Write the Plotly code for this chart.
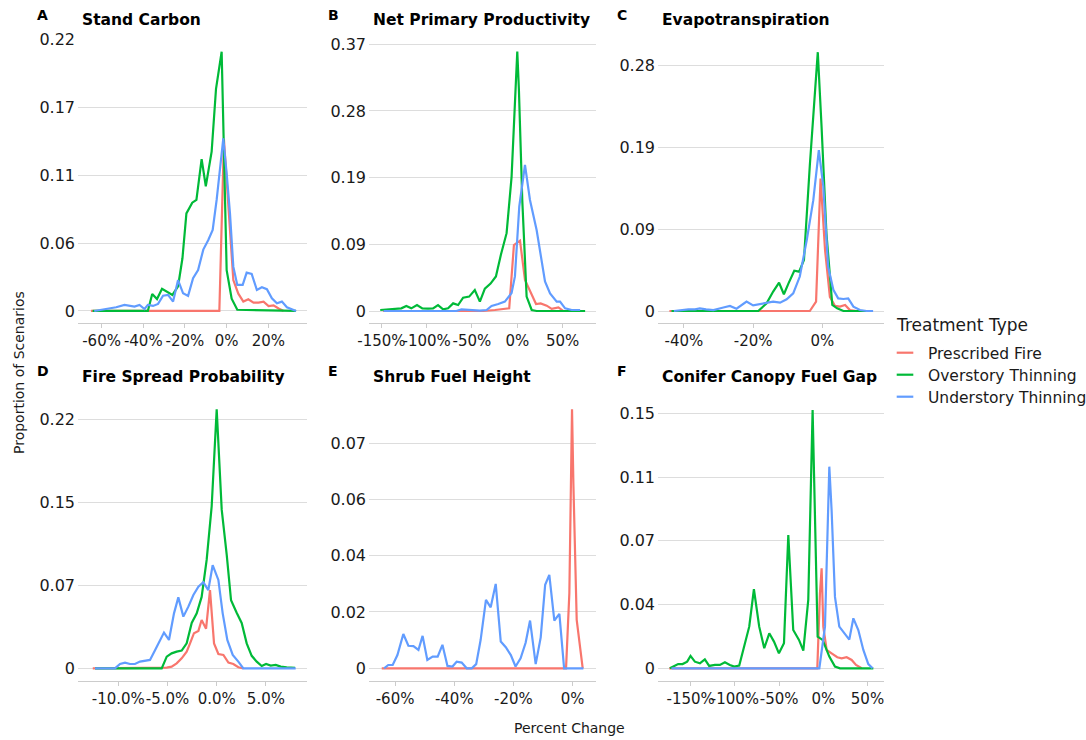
import plotly.graph_objects as go

W, H = 1086, 740
FONT = "DejaVu Sans"
TEXT = "#1a1a1a"

FIRE, OVER, UNDER = "Prescribed Fire", "Overstory Thinning", "Understory Thinning"
TREATMENTS = [FIRE, OVER, UNDER]
COLORS = {FIRE: "#F8766D", OVER: "#00BA38", UNDER: "#619CFF"}

# ---- A: Stand Carbon (percent change vs proportion of scenarios) ----
carbon_fire_x = [-65.1, -3.5, -1.3, 1.6, 3.2, 5.6, 8.0, 10.4, 12.9, 15.3, 17.7, 20.1, 22.5, 24.9, 27.3]
carbon_fire_y = [0, 0, 0.139, 0.063, 0.025, 0.014, 0.0076, 0.0095, 0.0068, 0.0068, 0.0076, 0.004, 0.0046, 0.002, 0]
carbon_over_x = [-64.3, -37.8, -35.7, -33.4, -31.0, -28.6, -26.0, -23.3, -21.2, -19.3, -16.5, -14.5, -12.0,
                 -10.0, -7.2, -5.1, -2.4, 0.0, 2.4, 5.1, 33.3]
carbon_over_y = [0, 0, 0.0138, 0.0097, 0.018, 0.0157, 0.013, 0.020, 0.0427, 0.079, 0.0877, 0.090, 0.123,
                 0.101, 0.129, 0.180, 0.210, 0.033, 0.010, 0.001, 0]
carbon_under_x = [-63.5, -60.2, -56.2, -53.0, -49.0, -46.6, -44.2, -41.8, -39.4, -37.8, -35.3, -32.9, -30.5,
                  -28.1, -25.7, -23.3, -20.9, -18.5, -16.1, -13.7, -11.2, -8.8, -6.7, -4.8, -2.9, -1.6, 0.0,
                  1.6, 3.2, 5.1, 7.7, 9.6, 12.0, 14.5, 16.9, 19.3, 21.7, 24.1, 26.5, 28.9, 33.3]
carbon_under_y = [0, 0.0008, 0.0022, 0.003, 0.0049, 0.0041, 0.0035, 0.0049, 0.0016, 0.0049, 0.0041, 0.0057,
                  0.0124, 0.013, 0.0076, 0.025, 0.0143, 0.0122, 0.0265, 0.0332, 0.0497, 0.0575, 0.0656, 0.0899,
                  0.1169, 0.1399, 0.1115, 0.0789, 0.0359, 0.0211, 0.0211, 0.0311, 0.030, 0.017, 0.0192, 0.0176,
                  0.0103, 0.0062, 0.0076, 0.003, 0]
carbon_xticks = [-60, -40, -20, 0, 20]
carbon_xlabels = ["-60%", "-40%", "-20%", "0%", "20%"]
carbon_yticks = [0, 0.055, 0.11, 0.165, 0.22]
carbon_ylabels = ["0", "0.06", "0.11", "0.17", "0.22"]

# ---- B: Net Primary Productivity ----
npp_fire_x = [-148.3, -37.6, -24.7, -17.3, -8.9, -3.7, 3.0, 8.5, 14.0, 20.7, 25.8, 32.5, 38.0, 45.4, 50.9, 62.0]
npp_fire_y = [0, 0, 0.0014, 0.0028, 0.0037, 0.0916, 0.0976, 0.043, 0.029, 0.0097, 0.0106, 0.0074, 0.003, 0.005, 0, 0]
npp_over_x = [-151.3, -142.8, -135.4, -128.0, -122.5, -117.0, -110.7, -104.8, -98.5, -93.0, -87.5, -81.9, -76.4,
              -70.8, -65.3, -59.8, -53.1, -46.9, -41.3, -35.8, -29.5, -23.6, -18.1, -11.8, -6.3, 0.0, 1.8, 5.5,
              10.3, 15.9, 21.4, 74.9]
npp_over_y = [0.0014, 0.0023, 0.0023, 0.0037, 0.007, 0.0037, 0.0083, 0.0037, 0.0032, 0.0037, 0.0083, 0.0023,
              0.0037, 0.0106, 0.0083, 0.0185, 0.020, 0.029, 0.013, 0.031, 0.038, 0.048, 0.078, 0.108, 0.186,
              0.360, 0.307, 0.154, 0.020, 0.0014, 0, 0]
npp_under_x = [-147.6, -67.2, -61.6, -52.4, -41.3, -33.9, -28.4, -21.0, -13.7, -6.3, -2.6, 2.2, 8.5, 14.0, 21.4,
               30.6, 36.2, 43.5, 47.2, 52.8, 60.1, 69.4]
npp_under_y = [0, 0, 0.0023, 0.0014, 0.0005, 0.0014, 0.007, 0.0097, 0.013, 0.025, 0.048, 0.145, 0.2026, 0.154,
               0.112, 0.041, 0.0245, 0.013, 0.013, 0.0037, 0.0014, 0.0014]
npp_xticks = [-150, -100, -50, 0, 50]
npp_xlabels = ["-150%", "-100%", "-50%", "0%", "50%"]
npp_yticks = [0, 0.0925, 0.185, 0.2775, 0.37]
npp_ylabels = ["0", "0.09", "0.19", "0.28", "0.37"]

# ---- C: Evapotranspiration ----
et_fire_x = [-44.2, -3.6, -1.8, -0.5, 0.8, 2.2, 3.7, 5.1, 6.6, 8.0, 9.9]
et_fire_y = [0, 0, 0.0106, 0.150, 0.069, 0.016, 0.0057, 0.0049, 0.0068, 0.001, 0]
et_over_x = [-43.6, -18.5, -16.1, -14.2, -12.5, -11.1, -9.8, -8.1, -6.7, -5.3, -3.6, -1.3, -0.2, 1.2, 2.9,
             4.3, 6.1, 14.3]
et_over_y = [0, 0, 0.0087, 0.022, 0.032, 0.019, 0.031, 0.0456, 0.0445, 0.0577, 0.165, 0.293, 0.208, 0.088,
             0.0068, 0.003, 0, 0]
et_under_x = [-42.9, -40.7, -38.7, -36.8, -35.4, -33.6, -31.5, -28.6, -26.7, -24.8, -21.9, -20.0, -18.0,
              -16.1, -14.2, -12.2, -10.3, -8.4, -6.5, -4.5, -2.6, -1.0, 0.3, 1.7, 3.2, 4.6, 6.1, 7.5, 9.0,
              10.9, 12.8, 14.7]
et_under_y = [0, 0.001, 0.0019, 0.0019, 0.003, 0.0019, 0.001, 0.004, 0.0057, 0.0026, 0.0106, 0.0064, 0.0079,
              0.0087, 0.0106, 0.0094, 0.0132, 0.020, 0.039, 0.080, 0.1255, 0.182, 0.141, 0.050, 0.024, 0.0143,
              0.0136, 0.0143, 0.0049, 0.0011, 0, 0]
et_xticks = [-40, -20, 0]
et_xlabels = ["-40%", "-20%", "0%"]
et_yticks = [0, 0.0925, 0.185, 0.2775]
et_ylabels = ["0", "0.09", "0.19", "0.28"]

# ---- D: Fire Spread Probability ----
spread_fire_x = [-12.6, -6.78, -5.76, -5.08, -4.58, -4.07, -3.56, -3.05, -2.71, -2.31, -1.86, -1.53, -1.08,
                 -0.68, -0.27, 0.17, 0.68, 1.19, 1.69, 2.2, 2.71]
spread_fire_y = [0, 0, 0, 0.0006, 0.0015, 0.0044, 0.0088, 0.0147, 0.022, 0.031, 0.033, 0.0426, 0.035, 0.069,
                 0.022, 0.0126, 0.0118, 0.005, 0.0038, 0.0009, 0]
spread_over_x = [-12.37, -5.59, -5.08, -4.58, -4.07, -3.56, -3.05, -2.54, -2.03, -1.53, -1.02, -0.51, 0.0,
                 0.51, 1.02, 1.46, 2.03, 2.54, 3.05, 3.56, 4.07, 4.58, 5.02, 5.49, 6.0, 6.51, 7.12, 7.97]
spread_over_y = [0, 0, 0.0103, 0.0132, 0.0147, 0.0156, 0.022, 0.040, 0.0485, 0.063, 0.0956, 0.143, 0.2285,
                 0.14, 0.10, 0.06, 0.049, 0.040, 0.022, 0.011, 0.0059, 0.002, 0.0038, 0.0024, 0.003, 0.0015,
                 0.0009, 0.0003]
spread_under_x = [-12.37, -10.34, -9.83, -9.32, -8.81, -8.31, -7.80, -7.29, -6.78, -6.27, -5.76, -5.36, -4.85,
                  -4.34, -3.90, -3.39, -2.88, -2.37, -1.86, -1.36, -0.85, -0.41, 0.17, 0.61, 1.08, 1.63, 2.2,
                  2.71, 8.03]
spread_under_y = [0, 0, 0.0038, 0.005, 0.0038, 0.0038, 0.0059, 0.0065, 0.0074, 0.016, 0.025, 0.0315, 0.025,
                  0.0485, 0.0626, 0.0456, 0.0544, 0.0647, 0.072, 0.0759, 0.069, 0.091, 0.078, 0.0485, 0.025,
                  0.0118, 0.0059, 0, 0]
spread_xticks = [-10, -5, 0, 5]
spread_xlabels = ["-10.0%", "-5.0%", "0.0%", "5.0%"]
spread_yticks = [0, 0.07333, 0.14667, 0.22]
spread_ylabels = ["0", "0.07", "0.15", "0.22"]

# ---- E: Shrub Fuel Height (no overstory thinning response) ----
shrub_fire_x = [-64.5, -2.25, -1.13, -0.23, 0.23, 1.35, 3.38]
shrub_fire_y = [0, 0, 0.025, 0.0862, 0.0616, 0.0161, 0]
shrub_under_x = [-63.7, -62.3, -60.8, -59.2, -57.2, -55.5, -53.8, -52.1, -50.7, -49.1, -47.3, -45.6, -44.0,
                 -42.3, -40.6, -39.2, -37.5, -35.8, -34.1, -32.6, -31.1, -29.3, -27.7, -26.0, -24.3, -22.6,
                 -20.9, -19.3, -17.6, -15.9, -14.4, -12.5, -10.8, -9.3, -7.9, -6.2, -4.5, -2.9, 3.6]
shrub_under_y = [0, 0.0011, 0.0011, 0.0044, 0.0114, 0.0075, 0.0074, 0.0061, 0.0108, 0.0028, 0.0039, 0.0039,
                 0.0078, 0.0008, 0.0006, 0.0022, 0.0019, 0, 0, 0.0014, 0.0094, 0.0228, 0.0203, 0.0281, 0.0089,
                 0.007, 0.0044, 0.0006, 0.0033, 0.0085, 0.0159, 0.0014, 0.0103, 0.0278, 0.0311, 0.0159, 0.0181,
                 0, 0]
shrub_xticks = [-60, -40, -20, 0]
shrub_xlabels = ["-60%", "-40%", "-20%", "0%"]
shrub_yticks = [0, 0.01875, 0.0375, 0.05625, 0.075]
shrub_ylabels = ["0", "0.02", "0.04", "0.06", "0.07"]

# ---- F: Conifer Canopy Fuel Gap ----
gap_fire_x = [-174.3, -6.8, -3.8, -1.9, 0.0, 3.8, 9.4, 15.8, 20.8, 26.4, 32.1, 37.0, 43.4]
gap_fire_y = [0, 0, 0.044, 0.0588, 0.0245, 0.0108, 0.0088, 0.0065, 0.0059, 0.0065, 0.0049, 0.002, 0]
gap_over_x = [-173.6, -169.1, -164.2, -159.2, -154.0, -150.2, -145.3, -139.6, -134.0, -129.1, -122.6, -117.0,
              -111.3, -105.7, -100.8, -95.1, -89.8, -83.8, -78.5, -72.5, -66.8, -61.1, -55.8, -50.2, -44.5,
              -39.6, -34.0, -27.5, -22.6, -17.0, -12.1, -6.4, -0.8, 6.8, 13.2, 18.9, 56.6]
gap_over_y = [0, 0.001, 0.0025, 0.0025, 0.0039, 0.0073, 0.0039, 0.0029, 0.0053, 0.0014, 0.002, 0.002, 0.0035,
              0.002, 0.001, 0.0016, 0.0118, 0.0245, 0.0465, 0.0245, 0.0118, 0.0206, 0.0157, 0.0088, 0.0147,
              0.0784, 0.0225, 0.0167, 0.0104, 0.0402, 0.1519, 0.0186, 0.0167, 0.0069, 0.001, 0, 0]
gap_under_x = [-171.7, -4.5, 1.9, 6.8, 9.4, 13.2, 18.1, 23.4, 29.4, 34.0, 39.6, 45.3, 50.9, 55.8]
gap_under_y = [0, 0, 0.0245, 0.1186, 0.093, 0.042, 0.0245, 0.021, 0.0169, 0.0294, 0.0225, 0.0108, 0.0025, 0]
gap_xticks = [-150, -100, -50, 0, 50]
gap_xlabels = ["-150%", "-100%", "-50%", "0%", "50%"]
gap_yticks = [0, 0.0375, 0.075, 0.1125, 0.15]
gap_ylabels = ["0", "0.04", "0.07", "0.11", "0.15"]

# ---- panel layout (pixel frame of each plotting area) ----
COLS_PX = [(78, 306.5), (369, 596), (658, 883.5)]
ROWS_PX = [(38.5, 322.7), (396, 681)]

panels = [
    dict(tag="A", title="Stand Carbon", row=0, col=0, xr=[-71.3, 38.3], yr=[-0.0095, 0.2207],
         series=[(FIRE, carbon_fire_x, carbon_fire_y), (OVER, carbon_over_x, carbon_over_y),
                 (UNDER, carbon_under_x, carbon_under_y)],
         xt=(carbon_xticks, carbon_xlabels), yt=(carbon_yticks, carbon_ylabels)),
    dict(tag="B", title="Net Primary Productivity", row=0, col=1, xr=[-163.7, 86.9], yr=[-0.0162, 0.378],
         series=[(FIRE, npp_fire_x, npp_fire_y), (OVER, npp_over_x, npp_over_y),
                 (UNDER, npp_under_x, npp_under_y)],
         xt=(npp_xticks, npp_xlabels), yt=(npp_yticks, npp_ylabels)),
    dict(tag="C", title="Evapotranspiration", row=0, col=2, xr=[-47.5, 17.7], yr=[-0.01325, 0.3085],
         series=[(FIRE, et_fire_x, et_fire_y), (OVER, et_over_x, et_over_y),
                 (UNDER, et_under_x, et_under_y)],
         xt=(et_xticks, et_xlabels), yt=(et_yticks, et_ylabels)),
    dict(tag="D", title="Fire Spread Probability", row=1, col=0, xr=[-14.1, 9.13], yr=[-0.0112, 0.2403],
         series=[(FIRE, spread_fire_x, spread_fire_y), (OVER, spread_over_x, spread_over_y),
                 (UNDER, spread_under_x, spread_under_y)],
         xt=(spread_xticks, spread_xlabels), yt=(spread_yticks, spread_ylabels)),
    dict(tag="E", title="Shrub Fuel Height", row=1, col=1, xr=[-68.8, 7.87], yr=[-0.00423, 0.09065],
         series=[(FIRE, shrub_fire_x, shrub_fire_y), (UNDER, shrub_under_x, shrub_under_y)],
         xt=(shrub_xticks, shrub_xlabels), yt=(shrub_yticks, shrub_ylabels)),
    dict(tag="F", title="Conifer Canopy Fuel Gap", row=1, col=2, xr=[-187.0, 68.1], yr=[-0.00747, 0.16018],
         series=[(FIRE, gap_fire_x, gap_fire_y), (OVER, gap_over_x, gap_over_y),
                 (UNDER, gap_under_x, gap_under_y)],
         xt=(gap_xticks, gap_xlabels), yt=(gap_yticks, gap_ylabels)),
]


def px_x(v):
    return v / W


def px_y(v):
    return 1 - v / H


fig = go.Figure()
layout = {}
annotations = []

for i, p in enumerate(panels, start=1):
    sx = "" if i == 1 else str(i)
    x0, x1 = COLS_PX[p["col"]]
    top, bottom = ROWS_PX[p["row"]]
    for name, xs, ys in p["series"]:
        fig.add_trace(go.Scatter(
            x=xs, y=ys, mode="lines", name=name, showlegend=False,
            line=dict(color=COLORS[name], width=2.2),
            xaxis="x" + sx, yaxis="y" + sx, hoverinfo="skip",
        ))
    layout["xaxis" + sx] = dict(
        domain=[px_x(x0), px_x(x1)], range=p["xr"], anchor="y" + sx, automargin=False,
        showgrid=False, zeroline=False, showline=True, linecolor="#cccccc", linewidth=1,
        ticks="outside", ticklen=4, tickwidth=1, tickcolor="#cccccc", tickangle=0,
        tickvals=p["xt"][0], ticktext=p["xt"][1],
        tickfont=dict(family=FONT, size=15, color=TEXT), fixedrange=True,
    )
    layout["yaxis" + sx] = dict(
        domain=[px_y(bottom), px_y(top)], range=p["yr"], anchor="x" + sx, automargin=False,
        showgrid=True, gridcolor="#dddddd", gridwidth=1,
        zeroline=True, zerolinecolor="#dddddd", zerolinewidth=1, showline=False,
        ticks="", tickvals=p["yt"][0], ticktext=p["yt"][1], ticklabelstandoff=2,
        tickfont=dict(family=FONT, size=16, color=TEXT), fixedrange=True,
    )
    row_title_y = 20.5 if p["row"] == 0 else 377.5
    row_tag_y = 15.5 if p["row"] == 0 else 371
    annotations.append(dict(
        text="<b>%s</b>" % p["title"], x=px_x(x0 + 2), y=px_y(row_title_y), xref="paper", yref="paper",
        xanchor="left", yanchor="middle", showarrow=False,
        font=dict(family=FONT, size=15.5, color="#000000"),
    ))
    annotations.append(dict(
        text="<b>%s</b>" % p["tag"], x=px_x(x0 - 43), y=px_y(row_tag_y), xref="paper", yref="paper",
        xanchor="left", yanchor="middle", showarrow=False,
        font=dict(family=FONT, size=14, color="#000000"),
    ))

# shared axis titles
annotations.append(dict(
    text="Percent Change", x=px_x(569.7), y=px_y(727.5), xref="paper", yref="paper",
    xanchor="center", yanchor="middle", showarrow=False,
    font=dict(family=FONT, size=14, color=TEXT),
))
annotations.append(dict(
    text="Proportion of Scenarios", x=px_x(19), y=px_y(373), xref="paper", yref="paper",
    xanchor="center", yanchor="middle", showarrow=False, textangle=-90,
    font=dict(family=FONT, size=14, color=TEXT),
))

# legend: key lines with labels
shapes = []
annotations.append(dict(
    text="Treatment Type", x=px_x(894), y=px_y(324.5), xref="paper", yref="paper",
    xanchor="left", yanchor="middle", showarrow=False,
    font=dict(family=FONT, size=17, color=TEXT),
))
for k, name in enumerate(TREATMENTS):
    yk = 352.7 + 22 * k
    shapes.append(dict(
        type="line", xref="paper", yref="paper", x0=px_x(896.7), x1=px_x(913.3),
        y0=px_y(yk), y1=px_y(yk), line=dict(color=COLORS[name], width=2.2),
    ))
    annotations.append(dict(
        text=name, x=px_x(925.5), y=px_y(yk + 1), xref="paper", yref="paper",
        xanchor="left", yanchor="middle", showarrow=False,
        font=dict(family=FONT, size=15.5, color=TEXT),
    ))

fig.update_layout(
    width=W, height=H, margin=dict(l=0, r=0, t=0, b=0, pad=0), autosize=False,
    paper_bgcolor="white", plot_bgcolor="white",
    showlegend=False, annotations=annotations, shapes=shapes,
    font=dict(family=FONT, color=TEXT),
    **layout,
)

fig.write_html("out.html")
